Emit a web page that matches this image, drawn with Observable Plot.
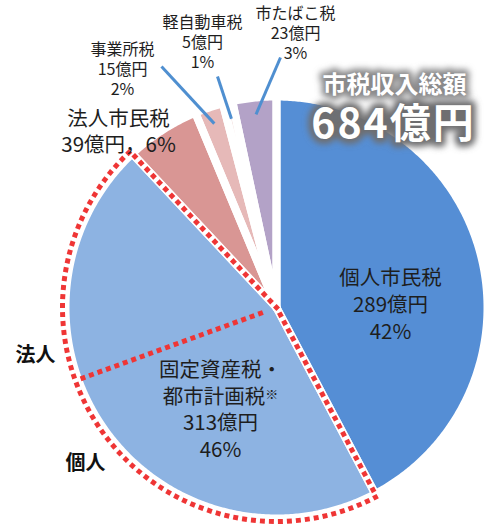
<!DOCTYPE html>
<html><head><meta charset="utf-8">
<script src="https://cdn.jsdelivr.net/npm/d3@7"></script>
<script src="https://cdn.jsdelivr.net/npm/@observablehq/plot@0.6"></script>
<style>body{margin:0;background:#fff}</style>
</head><body><div id="chart"></div>
<script>
// ---- data ----
const categories = ["個人市民税", "固定資産税・都市計画税", "法人市民税", "事業所税", "軽自動車税", "市たばこ税"];
const amounts = [289, 313, 39, 15, 5, 23];          // 億円
const amountLabels = ["289億円", "313億円", "39億円", "15億円", "5億円", "23億円"];
const percentLabels = ["42%", "46%", "6%", "2%", "1%", "3%"];
const nameLabels = ["個人市民税", "固定資産税・\n都市計画税※", "法人市民税", "事業所税", "軽自動車税", "市たばこ税"];
const titleLabel = "市税収入総額";
const totalLabel = "684億円";
const groupLabels = ["法人", "個人"];
// estimated split of 固定資産税・都市計画税 (clockwise: 個人 part, 法人 part)
const fixedSplit = [186, 127];

// ---- style / layout ----
const sliceColors = ["#558ed5", "#8db3e2", "#d99694", "#e6b9b8", "#f2dcdb", "#b3a2c7"];
const font = "'Noto Sans CJK JP', 'Noto Sans', sans-serif";
const W = 496, H = 526;
const cx = 276, cy = 307, R = 211;
const bigLabelPos = [{x: 390, y: 303}, {x: 220, y: 408}, {x: 118, y: 130}];
const smallLabelPos = [{x: 122, y: 68}, {x: 202, y: 41}, {x: 295, y: 32}];
const leaderEnds = [{x: 161, y: 66}, {x: 217, y: 76}, {x: 280, y: 57}];
const groupLabelPos = [{x: 35, y: 355}, {x: 85, y: 463}];

// ---- geometry from data ----
const arcs = d3.pie().sort(null).value(d => d)(amounts);
const pt = (a, r) => ({x: cx + r * Math.sin(a), y: cy - r * Math.cos(a)});
const sliceRows = [];
arcs.forEach((a, i) => {
  const n = Math.max(2, Math.ceil((a.endAngle - a.startAngle) / (Math.PI / 360)));
  sliceRows.push({name: categories[i], ...pt(0, 0)});
  for (let k = 0; k <= n; k++) sliceRows.push({name: categories[i], ...pt(a.startAngle + (a.endAngle - a.startAngle) * k / n, R)});
  sliceRows.push({name: categories[i], ...pt(0, 0)});
});

// resample a polyline into evenly spaced square "dots" (dotted outline)
function dotted(poly, step) {
  const out = [];
  let carry = 0;
  for (let i = 1; i < poly.length; i++) {
    const p = poly[i - 1], q = poly[i];
    const dx = q.x - p.x, dy = q.y - p.y, len = Math.hypot(dx, dy);
    if (len === 0) continue;
    const rot = Math.atan2(dy, dx) * 180 / Math.PI;
    let t = carry;
    while (t <= len) {
      out.push({x: p.x + dx * t / len, y: p.y + dy * t / len, rot});
      t += step;
    }
    carry = t - len;
  }
  return out;
}
const fa = arcs[1];
const outlinePoly = [pt(0, 0)];
for (let k = 0; k <= 300; k++) outlinePoly.push(pt(fa.endAngle - (fa.endAngle - fa.startAngle) * k / 300, R + 3));
outlinePoly.push(pt(0, 0));
const outlineDots = dotted(outlinePoly, 9);
const divAngle = fa.startAngle + (fa.endAngle - fa.startAngle) * fixedSplit[0] / (fixedSplit[0] + fixedSplit[1]);
const dividerDots = dotted([pt(divAngle, R - 5), pt(0, 0)], 9).filter((d, i, arr) => i < arr.length - 1);

const leaderRows = [3, 4, 5].map((i, j) => {
  const a = arcs[i];
  const p = pt((a.startAngle + a.endAngle) / 2, R * 0.92);
  return {x1: p.x, y1: p.y, x2: leaderEnds[j].x, y2: leaderEnds[j].y};
});
const bigLabels = [0, 1, 2].map((i, j) => ({
  ...bigLabelPos[j],
  text: i === 2 ? `${nameLabels[i]}\n${amountLabels[i]}，${percentLabels[i]}` : `${nameLabels[i]}\n${amountLabels[i]}\n${percentLabels[i]}`
}));
const smallLabels = [3, 4, 5].map((i, j) => ({...smallLabelPos[j], text: `${nameLabels[i]}\n${amountLabels[i]}\n${percentLabels[i]}`}));
const groups = groupLabels.map((t, j) => ({...groupLabelPos[j], text: t}));

const red = "#ef3535";
const chart = Plot.plot({
  width: W, height: H, margin: 0,
  x: {domain: [0, W], range: [0, W], axis: null},
  y: {domain: [0, H], range: [0, H], axis: null},
  color: {domain: categories, range: sliceColors},
  style: {background: "white", fontFamily: font},
  marks: [
    Plot.line(sliceRows, {x: "x", y: "y", z: "name", fill: "name", stroke: "none"}),
    Plot.line(sliceRows, {x: "x", y: "y", z: "name", stroke: "white", strokeWidth: 8, strokeLinejoin: "round"}),
    Plot.dot(outlineDots, {x: "x", y: "y", rotate: "rot", symbol: "square", r: 2.8, fill: red, stroke: "none"}),
    Plot.dot(dividerDots, {x: "x", y: "y", rotate: "rot", symbol: "square", r: 2.8, fill: red, stroke: "none"}),
    Plot.link(leaderRows, {x1: "x1", y1: "y1", x2: "x2", y2: "y2", stroke: "#4f8fd0", strokeWidth: 3}),
    Plot.text(bigLabels, {x: "x", y: "y", text: "text", fontSize: 20.5, lineHeight: 1.3, fill: "#1e1e1e", fontFamily: font}),
    Plot.text(smallLabels, {x: "x", y: "y", text: "text", fontSize: 16, lineHeight: 1.27, fill: "#1e1e1e", fontFamily: font}),
    Plot.text(groups, {x: "x", y: "y", text: "text", fontSize: 20, fontWeight: "bold", fill: "#111", fontFamily: font}),
    Plot.text([titleLabel], {x: 394, y: 85, text: d => d, fontSize: 24, fontWeight: "bold", fill: "#8a8a8b", stroke: "#8a8a8b", strokeWidth: 8, fontFamily: font}),
    Plot.text([totalLabel], {x: 393, y: 124, text: d => d, fontSize: 41, fontWeight: "bold", fill: "#6e6e6f", stroke: "#6e6e6f", strokeWidth: 10, fontFamily: font}),
    Plot.text([titleLabel], {x: 394, y: 85, text: d => d, fontSize: 24, fontWeight: "bold", fill: "#ffffff", fontFamily: font}),
    Plot.text([totalLabel], {x: 393, y: 124, text: d => d, fontSize: 41, fontWeight: "bold", fill: "#fffffe", fontFamily: font})
  ]
});
document.getElementById("chart").appendChild(chart);

// post-process: blurred glow, letter spacing, small superscript ※
const svg = d3.select(chart);
const defs = svg.insert("defs", ":first-child");
defs.append("filter").attr("id", "glow").attr("x", "-30%").attr("y", "-60%").attr("width", "160%").attr("height", "220%")
  .append("feGaussianBlur").attr("stdDeviation", 3);
svg.selectAll('g[fill="#8a8a8b"], g[fill="#6e6e6f"]').attr("filter", "url(#glow)");
svg.selectAll('g[fill="#6e6e6f"], g[fill="#fffffe"]').attr("letter-spacing", "2px");
svg.selectAll("tspan").each(function () {
  const t = this.textContent;
  if (t.endsWith("※") && this.childElementCount === 0) {
    const s = d3.select(this);
    s.text(t.slice(0, -1));
    s.append("tspan").attr("font-size", "13px").attr("baseline-shift", "40%").text("※");
  }
});
</script>
</body></html>
